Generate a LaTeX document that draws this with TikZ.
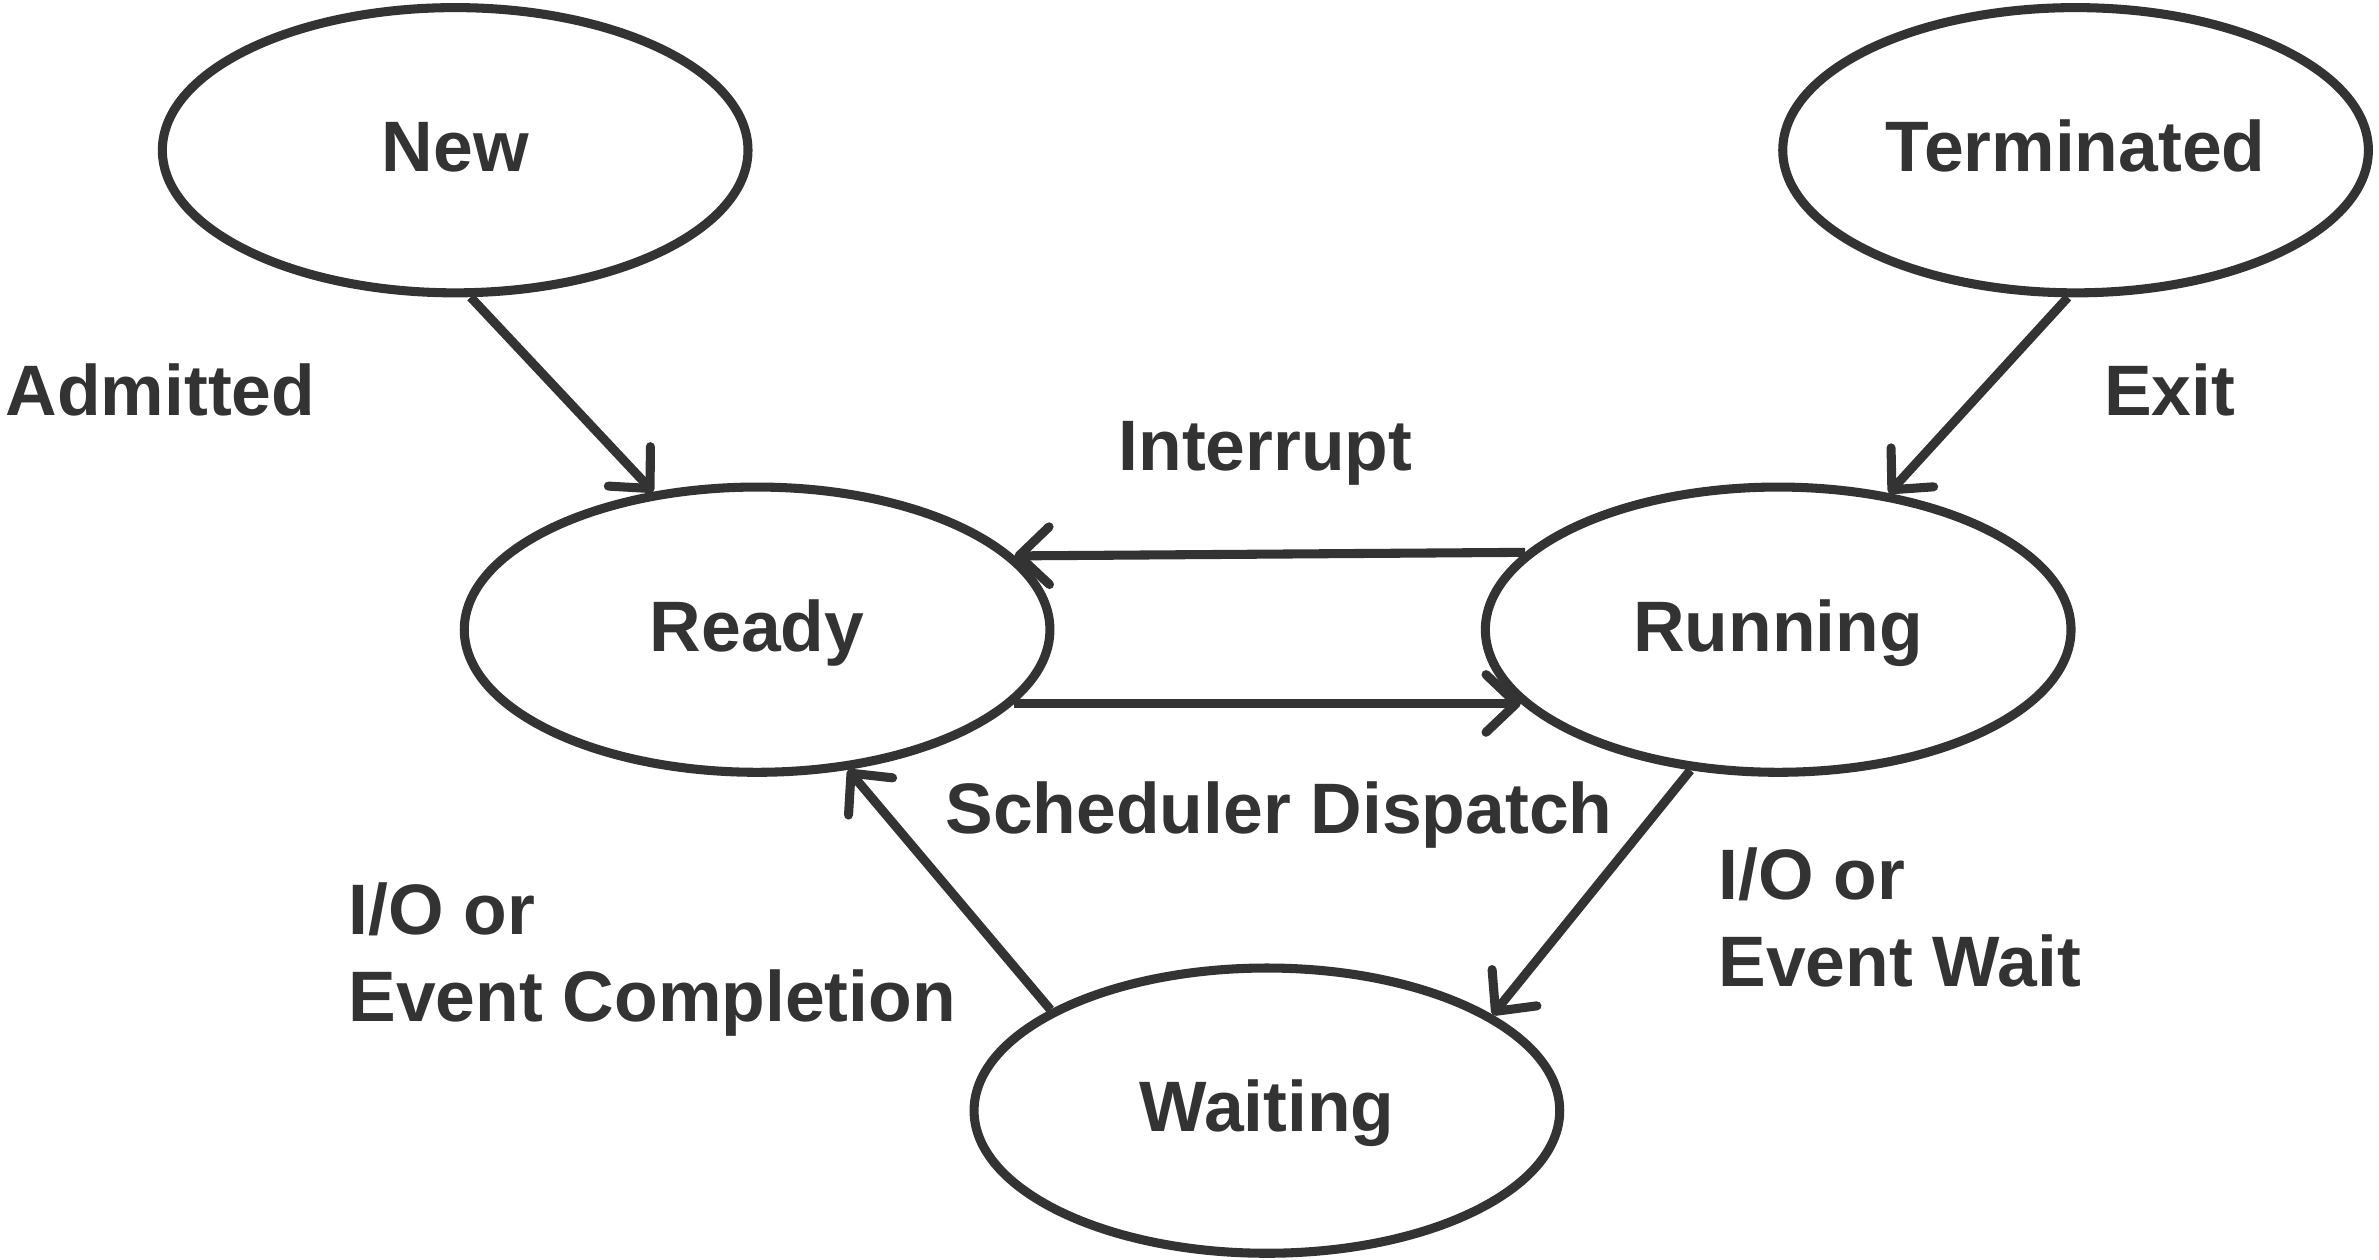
\documentclass[tikz,border=0pt]{standalone}
\usepackage{fontspec}
\setmainfont{Liberation Sans}
\usetikzlibrary{arrows.meta, shapes.geometric}
\definecolor{ink}{HTML}{333333}

\begin{document}
\begin{tikzpicture}[
  state/.style={ellipse, draw=ink, line width=1.7pt, minimum width=3.86cm,
    minimum height=1.88cm, inner sep=0pt, text height=0.8em, text depth=0pt},
  trans/.style={draw=ink, line width=1.7pt,
    -{Straight Barb[length=0.2cm, width=0.38cm, round]}},
  lbl/.style={inner sep=0pt, align=left, text height=0.8em, text depth=0pt},
  font=\fontsize{13.4}{16.2}\selectfont\bfseries, text=ink
]
\useasboundingbox (0,0) rectangle (15.68,-8.30);

% Define nodes
\node[state] (New) at (3.00,-0.99) {New};
\node[state] (Term) at (13.68,-0.99) {Terminated};
\node[state] (Ready) at (4.99,-4.15) {Ready};
\node[state] (Run) at (11.72,-4.15) {Running};
\node[state] (Wait) at (8.35,-7.32) {Waiting};

% Transitions
\draw[trans] (New.-84) -- (Ready.127);
\draw[trans] (Term.-93.5) -- (Run.51);
\draw[trans] (Run.163.3) -- (Ready.16.7);
\draw[trans] (Ready.-16.7) -- (Run.196.7);
\draw[trans] (Run.-122) -- (Wait.23.4);
\draw[trans] (Wait.155.3) -- (Ready.-57.3);

% Labels (anchor sits on the last line)
\node[lbl, anchor=west] (admitted) at (0.03,-2.60) {Admitted};
\node[lbl] (exit) at (14.30,-2.60) {Exit};
\node[lbl] (interrupt) at (8.34,-2.96) {Interrupt};
\node[lbl] (dispatch) at (8.43,-5.35) {Scheduler Dispatch};
\node[lbl, anchor=west] (iodone) at (2.29,-6.59) {I/O or\\Event Completion};
\node[lbl, anchor=west] (iowait) at (11.32,-6.36) {I/O or\\Event Wait};

\end{tikzpicture}
\end{document}
